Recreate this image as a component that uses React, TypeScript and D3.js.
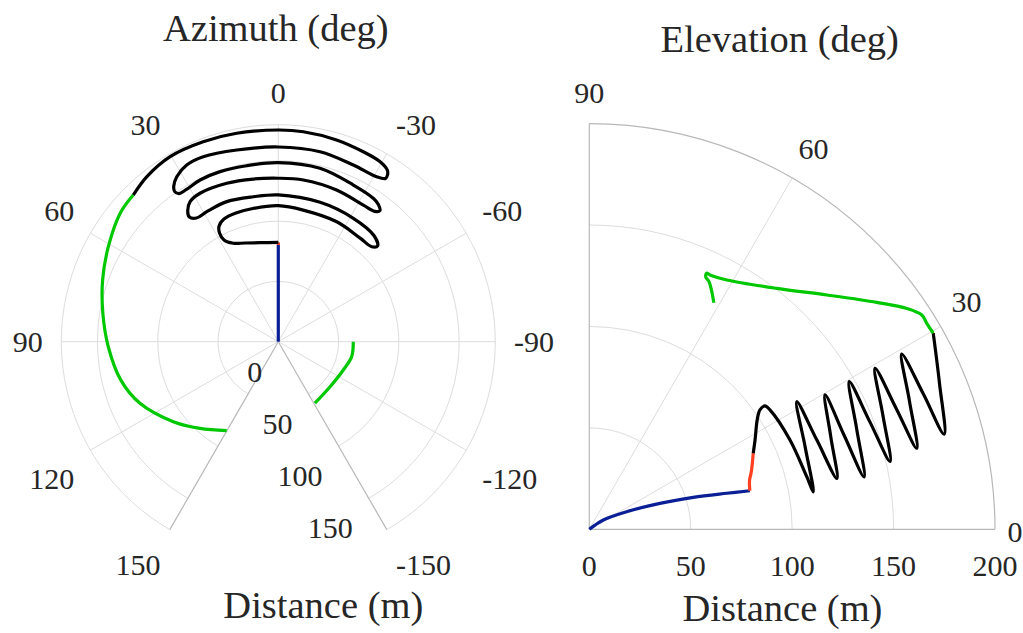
import React from 'react';
import * as d3 from 'd3';

// ---------- Left plot: azimuth (deg) vs distance (m) ----------
const azThetaTicks = [0, 30, 60, 90, 120, 150, -30, -60, -90, -120, -150];
const azRadialTicks = [0, 50, 100, 150];
const azRMax = 180;

const azBlue: [number, number][] = [[0, 0], [0, 80.2]];
const azRed: [number, number][] = [[0, 80.2], [0, 82.4]];
const azBlack: [number, number][] = [
  [0, 82.4], [10.5, 83.5], [18.6, 86.4], [24.6, 89.8], [28.1, 95.6], [28.4, 102.5], [27.1, 107.8], [23.9, 111.3], [18.2, 112.4], [10.8, 112.5], [0, 112.8],
  [-10.7, 111.1], [-26, 110.7], [-38.5, 109.5], [-44.5, 110.5], [-46, 114.5], [-42, 118.5], [-31.3, 119.8], [-16.7, 120.7], [0, 121.8],
  [9.8, 122], [20.2, 123.8], [28.8, 123.1], [33.5, 123], [35.5, 127], [34.7, 132], [32.2, 137.3], [27.8, 139.2], [18, 138.2], [8.7, 136.5], [0, 135.6],
  [-8.8, 135.7], [-21, 134.8], [-31.9, 133.5], [-36.5, 134.5], [-37.8, 137.5], [-36, 141], [-33.5, 142.7], [-25.6, 144.1], [-13.5, 147.9], [0, 148.5],
  [10.2, 148.3], [18.9, 149.1], [25.8, 149], [31.1, 147.5], [33.9, 148], [34.6, 151.5], [33.9, 155.5], [31.6, 160.7], [27.4, 165.1], [22.1, 165.6], [12.2, 162.7], [0, 161.5],
  [-12.4, 161.3], [-23, 159.2], [-30.8, 159.3], [-33.3, 162], [-33.2, 165.5], [-32.4, 168.7], [-29.5, 171.5], [-24.1, 172.6], [-16.1, 174.2], [-6.8, 175.4], [0, 175.6],
  [11.3, 176.3], [20.6, 177.2], [30.3, 177.8], [38.6, 175], [44.7, 171.1],
];
const azGreenA: [number, number][] = [
  [44.7, 171.1], [50.9, 169], [60.8, 161.5], [70.6, 154.5], [80.7, 147.5], [91.7, 141.1], [103.6, 134.5], [114, 125.6], [127.3, 109.5], [137.9, 96.9], [149.9, 85.3],
];
const azGreenB: [number, number][] = [
  [-149.2, 59.3], [-131, 56.9], [-113.5, 58.8], [-101.5, 62.1], [-90, 62.2],
];

// ---------- Right plot: elevation (deg) vs distance (m) ----------
const elThetaTicks = [0, 30, 60, 90];
const elRadialTicks = [0, 50, 100, 150, 200];
const elRMax = 200;

const elBlue: [number, number][] = [[40, 0], [36, 3.5], [33.6, 8.3], [25.2, 20.3], [20.2, 37.1], [17.1, 53.6], [14.7, 70], [13.5, 81.4]];
const elRed: [number, number][] = [[13.5, 81.4], [17, 82.6], [19.6, 84.8], [24.9, 89.1]];
const elBlack: [number, number][] = [
  [24.9, 89.1], [28.3, 92.8], [33.1, 98.8], [35, 102.7], [35.1, 105.8], [33.4, 106.8], [24, 108.3], [13.6, 110.3], [9.5, 112],
  [20.9, 113.9], [31.6, 120.1], [21.4, 120.5], [11.6, 124.6], [21, 127.5], [29.7, 133.8], [20.2, 133.9], [10.8, 137.9],
  [20.6, 140.8], [29.6, 147.4], [21, 148.1], [12.7, 152], [21.3, 155.3], [29.4, 161.7], [21.5, 162.6], [13.9, 166.3],
  [21.8, 170], [29.3, 176.6], [22, 177.7], [15, 181.1], [22.6, 187], [29.7, 195.2],
];
const elGreen: [number, number][] = [
  [29.7, 195.2], [31.4, 194.9], [32.8, 195], [34.8, 190.7], [38.3, 180.5], [44.6, 164.5], [52.1, 150.5], [61.1, 140.4],
  [64.6, 138.8], [65.4, 138.9], [65.2, 136.9], [64.2, 135.6], [61.2, 127.5],
];

const COLORS = { blue: '#0a1f96', red: '#ff4122', black: '#000000', green: '#00c800' };
const FONT = "'Liberation Serif', 'DejaVu Serif', 'Noto Serif', 'Times New Roman', Times, serif";
const TEXT = '#262626';
const GRID = '#dddddd';
const EDGE = '#b8b8b8';
const deg = Math.PI / 180;

const textWidth = (s: string, fs: number) =>
  s.split('').reduce((w, ch) => w + (ch === '-' ? 0.333 : 0.5) * fs, 0);

export default function App() {
  const W = 1023, H = 633;
  const tickFs = 30, labelFs = 38.5;
  const tStyle = { fontFamily: FONT };

  // left geometry
  const cL = { x: 278.3, y: 341.7 };
  const rL = d3.scaleLinear().domain([0, azRMax]).range([0, 217]);
  const azLine = d3.lineRadial<[number, number]>()
    .angle(d => -d[0] * deg)
    .radius(d => rL(d[1]))
    .curve(d3.curveCatmullRom.alpha(0.5));
  const azPt = (az: number, r: number) => ({ x: cL.x - r * Math.sin(az * deg), y: cL.y - r * Math.cos(az * deg) });
  const ringL = (r: number) => {
    const p = d3.path();
    p.arc(cL.x, cL.y, rL(r), (-90 + 150) * deg, (-90 - 150) * deg, true);
    return p.toString();
  };

  // right geometry
  const cR = { x: 589.3, y: 529.3 };
  const rR = d3.scaleLinear().domain([0, elRMax]).range([0, 405.7]);
  const elLine = d3.lineRadial<[number, number]>()
    .angle(d => (90 - d[0]) * deg)
    .radius(d => rR(d[1]))
    .curve(d3.curveCatmullRom.alpha(0.5));
  const elPt = (e: number, r: number) => ({ x: cR.x + r * Math.cos(e * deg), y: cR.y - r * Math.sin(e * deg) });
  const ringR = (r: number) => {
    const p = d3.path();
    p.arc(cR.x, cR.y, rR(r), 0, -Math.PI / 2, true);
    return p.toString();
  };

  // theta label: the text box corner nearest the centre sits on a circle just outside the axes
  const labelPos = (cx: number, cy: number, Rg: number, ux: number, uy: number, s: string, hUp: number, hDown: number) => {
    const w = textWidth(s, tickFs);
    const sx = Math.abs(ux) < 0.02 ? 0 : Math.sign(ux);
    const sy = Math.abs(uy) < 0.02 ? 0 : Math.sign(uy);
    return {
      x: cx + ux * Rg + sx * w / 2,
      y: cy + uy * Rg + (sy < 0 ? -hUp : sy > 0 ? hDown : 0),
    };
  };

  const lineW = 3.2;

  return (
    <svg width={W} height={H} viewBox={`0 0 ${W} ${H}`}
      style={{ position: 'absolute', left: 0, top: 0, background: '#fff', fontFamily: FONT }}>
      <rect width={W} height={H} fill="#fff" />

      {/* ---------- Left polar (azimuth) ---------- */}
      <g>
        {azRadialTicks.filter(r => r > 0).concat([azRMax]).map(r => (
          <path key={'rl' + r} d={ringL(r)} fill="none" stroke={GRID} strokeWidth={1} />
        ))}
        {azThetaTicks.filter(a => Math.abs(a) < 150).map(a => {
          const p = azPt(a, rL(azRMax));
          return <line key={'sl' + a} x1={cL.x} y1={cL.y} x2={p.x} y2={p.y} stroke={GRID} strokeWidth={1} />;
        })}
        {[150, -150].map(a => {
          const p = azPt(a, rL(azRMax));
          return <line key={'el' + a} x1={cL.x} y1={cL.y} x2={p.x} y2={p.y} stroke={EDGE} strokeWidth={1.2} />;
        })}
        <g fill="none" strokeWidth={lineW} strokeLinejoin="round" strokeLinecap="butt">
          <path d={azLine(azBlue) || ''} transform={`translate(${cL.x},${cL.y})`} stroke={COLORS.blue} />
          <path d={azLine(azRed) || ''} transform={`translate(${cL.x},${cL.y})`} stroke={COLORS.red} />
          <path d={azLine(azBlack) || ''} transform={`translate(${cL.x},${cL.y})`} stroke={COLORS.black} />
          <path d={azLine(azGreenA) || ''} transform={`translate(${cL.x},${cL.y})`} stroke={COLORS.green} />
          <path d={azLine(azGreenB) || ''} transform={`translate(${cL.x},${cL.y})`} stroke={COLORS.green} />
        </g>
        {azThetaTicks.map(a => {
          const s = String(a);
          const p = labelPos(cL.x, cL.y, rL(azRMax) + 18.6, -Math.sin(a * deg), -Math.cos(a * deg), s, 13.6, 18.5);
          return <text key={'tl' + a} x={p.x} y={p.y} fontSize={tickFs} fill={TEXT} style={tStyle}
            textAnchor="middle" dominantBaseline="central">{s}</text>;
        })}
        {azRadialTicks.map(r => {
          const p = azPt(-150, rL(r));
          return <text key={'rlt' + r} x={p.x - 16} y={p.y + 29.5} fontSize={tickFs} fill={TEXT} style={tStyle}
            textAnchor="end" dominantBaseline="central">{r}</text>;
        })}
        <text x={275.8} y={41} fontSize={labelFs} fill={TEXT} style={tStyle} textAnchor="middle">Azimuth (deg)</text>
        <text x={323.3} y={618} fontSize={labelFs} fill={TEXT} style={tStyle} textAnchor="middle">Distance (m)</text>
      </g>

      {/* ---------- Right polar (elevation) ---------- */}
      <g>
        {elRadialTicks.filter(r => r > 0 && r < elRMax).map(r => (
          <path key={'rr' + r} d={ringR(r)} fill="none" stroke={GRID} strokeWidth={1} />
        ))}
        {[30, 60].map(a => {
          const p = elPt(a, rR(elRMax));
          return <line key={'sr' + a} x1={cR.x} y1={cR.y} x2={p.x} y2={p.y} stroke={GRID} strokeWidth={1} />;
        })}
        <path d={ringR(elRMax)} fill="none" stroke={EDGE} strokeWidth={1.2} />
        {[0, 90].map(a => {
          const p = elPt(a, rR(elRMax));
          return <line key={'er' + a} x1={cR.x} y1={cR.y} x2={p.x} y2={p.y} stroke={EDGE} strokeWidth={1.2} />;
        })}
        <g fill="none" strokeWidth={lineW} strokeLinejoin="round" strokeLinecap="butt">
          <path d={elLine(elBlue) || ''} transform={`translate(${cR.x},${cR.y})`} stroke={COLORS.blue} />
          <path d={elLine(elRed) || ''} transform={`translate(${cR.x},${cR.y})`} stroke={COLORS.red} />
          <path d={elLine(elBlack) || ''} transform={`translate(${cR.x},${cR.y})`} stroke={COLORS.black} />
          <path d={elLine(elGreen) || ''} transform={`translate(${cR.x},${cR.y})`} stroke={COLORS.green} />
        </g>
        {elThetaTicks.map(a => {
          const s = String(a);
          const p = labelPos(cR.x, cR.y, rR(elRMax) + 12.5, Math.cos(a * deg), -Math.sin(a * deg), s, 18.4, 0);
          return <text key={'tr' + a} x={p.x} y={p.y + (a === 0 ? 2.5 : 0)} fontSize={tickFs} fill={TEXT} style={tStyle}
            textAnchor="middle" dominantBaseline="central">{s}</text>;
        })}
        {elRadialTicks.map(r => (
          <text key={'rrt' + r} x={cR.x + rR(r)} y={576} fontSize={tickFs} fill={TEXT} style={tStyle}
            textAnchor="middle">{r}</text>
        ))}
        <text x={779.7} y={51.7} fontSize={labelFs} fill={TEXT} style={tStyle} textAnchor="middle">Elevation (deg)</text>
        <text x={782.5} y={621} fontSize={labelFs} fill={TEXT} style={tStyle} textAnchor="middle">Distance (m)</text>
      </g>
    </svg>
  );
}
